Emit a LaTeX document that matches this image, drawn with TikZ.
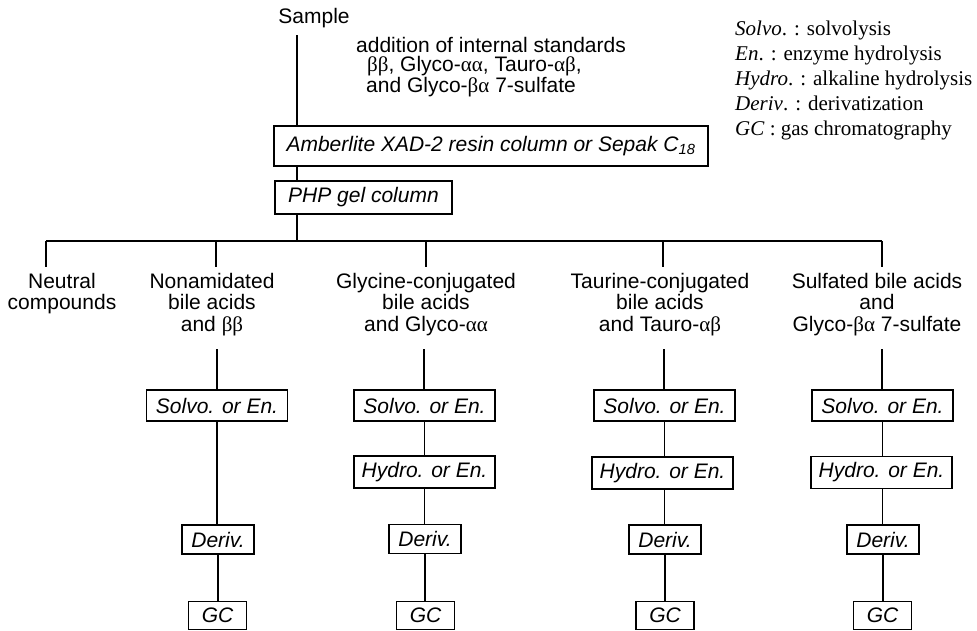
\documentclass[tikz,border=0pt]{standalone}
\usepackage{fontspec}
\setmainfont{Liberation Sans}
\newfontfamily\serifgk{Liberation Serif}
\newcommand{\gk}[1]{{\serifgk #1}}
\newcommand{\myfs}{\fontsize{21}{21.5}\selectfont}
\begin{document}
\begin{tikzpicture}[x=1pt,y=-1pt,
  conn/.style={line width=1.1pt},
  box/.style={draw, line width=1.1pt, inner sep=0pt, font=\myfs\itshape, align=center},
  lab/.style={inner sep=0pt, align=center, font=\myfs, anchor=north},
  solvobox/.style={box, minimum width=141pt, minimum height=31pt},
  hydrobox/.style={box, minimum width=141pt, minimum height=32pt},
  derivbox/.style={box, minimum width=72pt, minimum height=29pt},
  gcbox/.style={box, minimum width=58pt, minimum height=28pt}]
\useasboundingbox (0,0) rectangle (977,630);

% top
\node[inner sep=0pt, font=\myfs] (sample) at (314,18) {Sample};
\node[inner sep=0pt, anchor=north west, align=left, font=\fontsize{21}{19.5}\selectfont] (addn) at (356,37)
  {addition of internal standards\\
   \hspace*{11pt}\gk{ββ}, Glyco-\gk{αα}, Tauro-\gk{αβ},\\
   \hspace*{10pt}and Glyco-\gk{βα} 7-sulfate};
\node[box, minimum width=434pt, minimum height=40pt] (amb) at (491,146)
  {Amberlite XAD-2 resin column or Sepak C\textsubscript{18}};
\node[box, minimum width=177pt, minimum height=33pt] (php) at (363.5,197.5) {PHP gel column};

% legend
\node[inner sep=0pt, anchor=north west, align=left, font=\fontsize{21}{25}\selectfont\serifgk] (legend) at (735,21)
  {\textit{Solvo}. : solvolysis\\
   \textit{En}. : enzyme hydrolysis\\
   \textit{Hydro}. : alkaline hydrolysis\\
   \textit{Deriv}. : derivatization\\
   \textit{GC} : gas chromatography};

% trunk
\coordinate (top) at (297,35);
\coordinate (junc) at (297,241);
\draw[conn] (top) -- (top |- amb.north);
\draw[conn] (top |- amb.south) -- (top |- php.north);
\draw[conn] (top |- php.south) -- (junc);

% bus
\foreach \i/\x in {1/46,2/216,3/426,4/663,5/882}{
  \coordinate (bus\i) at (\x,241);
  \coordinate (drop\i) at (\x,267);
}
\draw[conn] (bus1) -- (bus5);
\foreach \i in {1,...,5}{ \draw[conn] (bus\i) -- (drop\i); }

% labels
\node[lab] (lab1) at (62,273) {Neutral\\compounds};
\node[lab] (lab2) at (212,273) {Nonamidated\\bile acids\\and \gk{ββ}};
\node[lab] (lab3) at (426,273) {Glycine-conjugated\\bile acids\\and Glyco-\gk{αα}};
\node[lab] (lab4) at (660,273) {Taurine-conjugated\\bile acids\\and Tauro-\gk{αβ}};
\node[lab] (lab5) at (877,273) {Sulfated bile acids\\and\\Glyco-\gk{βα} 7-sulfate};

% column 2
\node[solvobox] (s2) at (217,405.5) {Solvo. or En.};
\node[derivbox] (d2) at (218,539.5) {Deriv.};
\node[gcbox] (g2) at (217.5,615.5) {GC};
% column 3
\node[solvobox] (s3) at (424.5,405.5) {Solvo. or En.};
\node[hydrobox] (h3) at (424.5,472) {Hydro. or En.};
\node[derivbox] (d3) at (425,539) {Deriv.};
\node[gcbox] (g3) at (425.5,615.5) {GC};
% column 4
\node[solvobox] (s4) at (664.5,405.5) {Solvo. or En.};
\node[hydrobox] (h4) at (662.5,473) {Hydro. or En.};
\node[derivbox] (d4) at (665,539.5) {Deriv.};
\node[gcbox] (g4) at (665,615.5) {GC};
% column 5
\node[solvobox] (s5) at (882.5,405.5) {Solvo. or En.};
\node[hydrobox] (h5) at (881.5,472.5) {Hydro. or En.};
\node[derivbox] (d5) at (883,539.5) {Deriv.};
\node[gcbox] (g5) at (882.5,615.5) {GC};

% label to first box
\foreach \i/\x in {2/217,3/424,4/664,5/882}{
  \coordinate (lt\i) at (\x,349);
  \draw[conn] (lt\i) -- (lt\i |- s\i.north);
}
% chains
\draw[conn] (s2.south) -- (s2.south |- d2.north);
\draw[conn] (d2.south) -- (d2.south |- g2.north);
\foreach \i in {3,4,5}{
  \draw[conn] (s\i.south) -- (s\i.south |- h\i.north);
  \draw[conn] (s\i.south |- h\i.south) -- (s\i.south |- d\i.north);
  \draw[conn] (d\i.south) -- (d\i.south |- g\i.north);
}
\end{tikzpicture}
\end{document}
